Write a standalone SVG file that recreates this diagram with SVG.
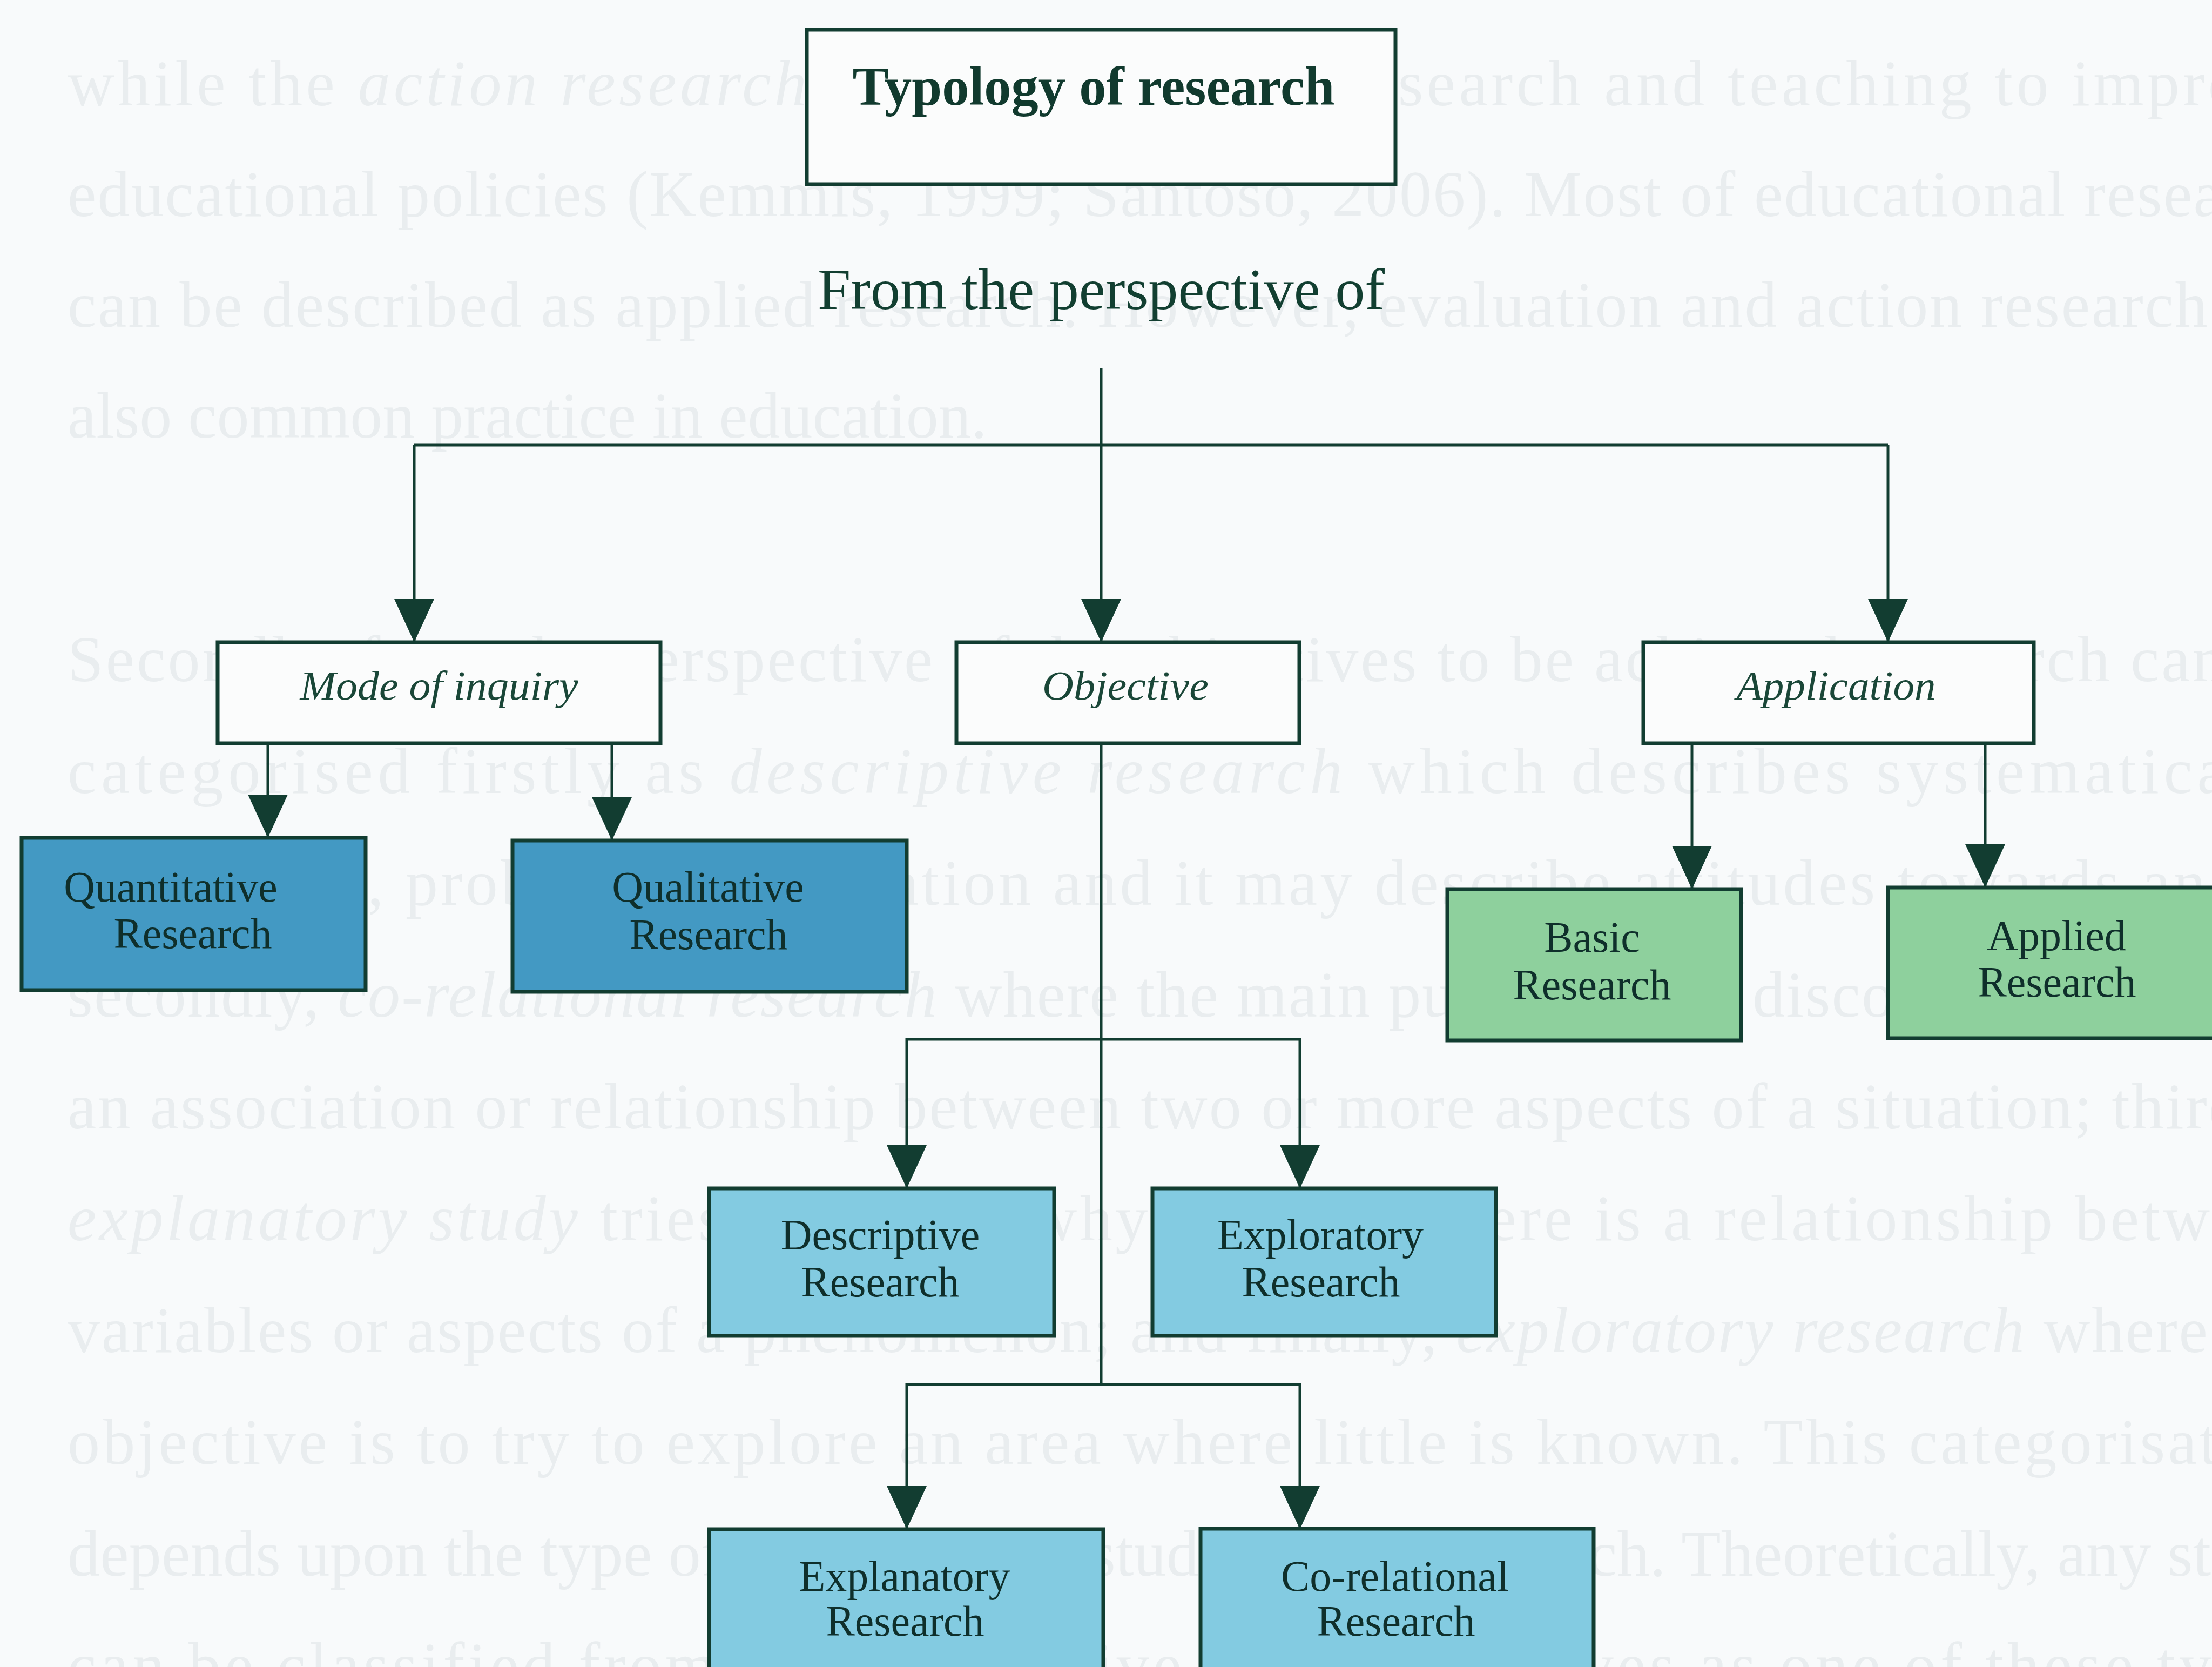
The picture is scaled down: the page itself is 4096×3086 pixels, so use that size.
<svg xmlns="http://www.w3.org/2000/svg" width="4096" height="3086" viewBox="0 0 4096 3086">
<defs>
<style>
.bg{fill:#f8fafb}
.faint{font-family:"Liberation Serif","Times New Roman",serif;font-size:120px;fill:#e9edef}
.box{stroke:#123d31;stroke-width:7}
.white{fill:#fbfcfc}
.dblue{fill:#4399c3}
.lblue{fill:#83cbe1}
.green{fill:#8ed09d}
.conn{fill:none;stroke:#123d31;stroke-width:5}
.lbl{font-family:"Liberation Serif","Times New Roman",serif;font-size:80px;fill:#0f2f2b;text-anchor:middle}
.ital{font-family:"Liberation Serif","Times New Roman",serif;font-size:76px;font-style:italic;fill:#1a4738;text-anchor:middle}
</style>
<marker id="arr" markerUnits="userSpaceOnUse" markerWidth="80" markerHeight="80" viewBox="0 -37 78 74" refX="78" refY="0" orient="auto">
<path d="M0,-36 L78,0 L0,36 z" fill="#123d31"/>
</marker>
</defs>
<rect class="bg" x="0" y="0" width="4096" height="3086"/>
<g id="background-text" class="faint">
<text x="125" y="195" textLength="4150">while the <tspan font-style="italic">action research</tspan> aims to integrate research and teaching to improve</text>
<text x="125" y="400" textLength="4150">educational policies (Kemmis, 1999; Santoso, 2006). Most of educational research</text>
<text x="125" y="605" textLength="4150">can be described as applied research. However, evaluation and action research are</text>
<text x="125" y="810">also common practice in education.</text>
<text x="125" y="1261" textLength="4150">Secondly, from the perspective of the objectives to be achieved, research can be</text>
<text x="125" y="1468" textLength="4150">categorised firstly as <tspan font-style="italic">descriptive research</tspan> which describes systematically</text>
<text x="125" y="1675" textLength="4300">a situation, problem, organisation and it may describe attitudes towards an issue;</text>
<text x="125" y="1882" textLength="4150">secondly, <tspan font-style="italic">co-relational research</tspan> where the main purpose is to discover or establish</text>
<text x="125" y="2089" textLength="4150">an association or relationship between two or more aspects of a situation; thirdly,</text>
<text x="125" y="2296" textLength="4150"><tspan font-style="italic">explanatory study</tspan> tries to clarify why and how there is a relationship between</text>
<text x="125" y="2503" textLength="4150">variables or aspects of a phenomenon; and finally, <tspan font-style="italic">exploratory research</tspan> where the</text>
<text x="125" y="2710" textLength="4150">objective is to try to explore an area where little is known. This categorisation</text>
<text x="125" y="2917" textLength="4150">depends upon the type of objective the study wishes to reach. Theoretically, any study</text>
<text x="125" y="3124" textLength="4150">can be classified from the perspective of its objectives as one of these types</text>
</g>
<g id="connectors">
<path class="conn" d="M767,824 H3496"/>
<path class="conn" d="M767,824 V1189" marker-end="url(#arr)"/>
<path class="conn" d="M2039,682 V1189" marker-end="url(#arr)"/>
<path class="conn" d="M3496,824 V1189" marker-end="url(#arr)"/>
<path class="conn" d="M496,1376 V1551" marker-end="url(#arr)"/>
<path class="conn" d="M1133,1376 V1556" marker-end="url(#arr)"/>
<path class="conn" d="M3133,1376 V1646" marker-end="url(#arr)"/>
<path class="conn" d="M3676,1376 V1643" marker-end="url(#arr)"/>
<path class="conn" d="M2039,1376 V2563"/>
<path class="conn" d="M2039,1924 H1679 V2200" marker-end="url(#arr)"/>
<path class="conn" d="M2039,1924 H2407 V2200" marker-end="url(#arr)"/>
<path class="conn" d="M2039,2563 H1679 V2831" marker-end="url(#arr)"/>
<path class="conn" d="M2039,2563 H2407 V2831" marker-end="url(#arr)"/>
</g>
<g id="title">
<rect class="box white" x="1494" y="55" width="1090" height="286"/>
<text x="2025" y="194" font-family="'Liberation Serif','Times New Roman',serif" font-size="102" font-weight="bold" fill="#113a2e" text-anchor="middle" textLength="893" lengthAdjust="spacingAndGlyphs">Typology of research</text>
</g>
<g id="perspective-label">
<text x="2039" y="572" font-family="'Liberation Serif','Times New Roman',serif" font-size="108" fill="#123f31" text-anchor="middle" textLength="1050" lengthAdjust="spacingAndGlyphs">From the perspective of</text>
</g>
<g id="mode-of-inquiry">
<rect class="box white" x="403" y="1189" width="820" height="187"/>
<text class="ital" x="813" y="1295" textLength="515" lengthAdjust="spacingAndGlyphs">Mode of inquiry</text>
</g>
<g id="objective">
<rect class="box white" x="1771" y="1189" width="635" height="187"/>
<text class="ital" x="2084" y="1295" textLength="308" lengthAdjust="spacingAndGlyphs">Objective</text>
</g>
<g id="application">
<rect class="box white" x="3043" y="1189" width="723" height="187"/>
<text class="ital" x="3400" y="1295" textLength="369" lengthAdjust="spacingAndGlyphs">Application</text>
</g>
<g id="quantitative">
<rect class="box dblue" x="40" y="1551" width="637" height="282"/>
<text class="lbl" x="316" y="1669">Quantitative</text>
<text class="lbl" x="357" y="1755">Research</text>
</g>
<g id="qualitative">
<rect class="box dblue" x="949" y="1556" width="730" height="280"/>
<text class="lbl" x="1311" y="1669">Qualitative</text>
<text class="lbl" x="1312" y="1757">Research</text>
</g>
<g id="basic">
<rect class="box green" x="2680" y="1646" width="544" height="280"/>
<text class="lbl" x="2948" y="1762">Basic</text>
<text class="lbl" x="2948" y="1850">Research</text>
</g>
<g id="applied">
<rect class="box green" x="3496" y="1643" width="640" height="279"/>
<text class="lbl" x="3808" y="1759">Applied</text>
<text class="lbl" x="3809" y="1845">Research</text>
</g>
<g id="descriptive">
<rect class="box lblue" x="1313" y="2200" width="639" height="273"/>
<text class="lbl" x="1630" y="2313">Descriptive</text>
<text class="lbl" x="1630" y="2400">Research</text>
</g>
<g id="exploratory">
<rect class="box lblue" x="2134" y="2200" width="636" height="273"/>
<text class="lbl" x="2445" y="2313">Exploratory</text>
<text class="lbl" x="2446" y="2400">Research</text>
</g>
<g id="explanatory">
<rect class="box lblue" x="1313" y="2831" width="730" height="300"/>
<text class="lbl" x="1675" y="2945">Explanatory</text>
<text class="lbl" x="1676" y="3028">Research</text>
</g>
<g id="co-relational">
<rect class="box lblue" x="2223" y="2830" width="728" height="300"/>
<text class="lbl" x="2583" y="2945">Co-relational</text>
<text class="lbl" x="2585" y="3028">Research</text>
</g>
</svg>
